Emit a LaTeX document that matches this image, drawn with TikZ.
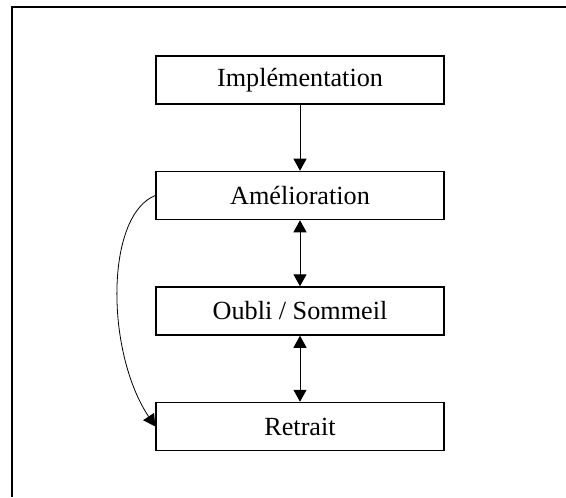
\documentclass[tikz,border=0pt]{standalone}
\usepackage{fontspec}
\setmainfont{Liberation Serif}
\usepackage{tikz}
\usetikzlibrary{arrows.meta}

\begin{document}
\begin{tikzpicture}[x=0.5pt,y=-0.5pt,
    etape/.style={draw,line width=0.75pt,minimum width=144pt,minimum height=24pt,
      inner sep=0pt,font=\fontsize{13.1}{15}\selectfont},
    fl/.style={line width=0.5pt,-{Triangle[length=6pt,width=6.5pt]}},
    dfl/.style={line width=0.5pt,{Triangle[length=6pt,width=6.5pt]}-{Triangle[length=6pt,width=6.5pt]}}]
      \useasboundingbox (0,0) rectangle (566,497);
      \draw[line width=1pt] (566,7.5)--(12,7.5)--(12,497);
      \node[etape] (impl) at (300,80){Implémentation};
      \node[etape] (amel) at (300,195.5){Amélioration};
      \node[etape] (oubli) at (300,311){Oubli / Sommeil};
      \node[etape] (retr) at (300,426.5){Retrait};
      \draw[fl](impl)--(amel);
      \draw[dfl](amel)--(oubli);
      \draw[dfl](oubli)--(retr);
      \draw[fl,line width=0.4pt](amel.west) .. controls +(-50,20) and +(-50,-75) .. (retr.west);
    \end{tikzpicture}
\end{document}
